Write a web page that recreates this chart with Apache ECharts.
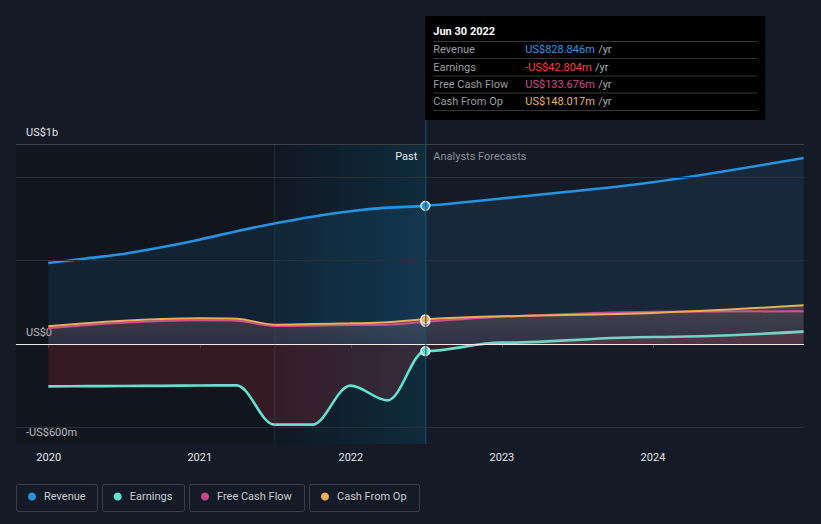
<!DOCTYPE html>
<html><head><meta charset="utf-8">
<script src="https://cdn.jsdelivr.net/npm/echarts@6/dist/echarts.min.js"></script>
<style>html,body{margin:0;padding:0;background:#151b26;}#c{width:821px;height:524px;}</style>
</head><body><div id="c"></div><script>
// ---- data ----
const pastDates = ['2019-12-31','2020-03-31','2020-06-30','2020-09-30','2020-12-31','2021-03-31','2021-06-30','2021-09-30','2021-12-31','2022-03-31','2022-06-30'];
const forecastDates = ['2022-12-31','2023-12-31','2024-12-31'];
const revenuePast = [486, 513, 540, 580, 626, 677, 723, 764, 797, 818, 828.846];
const revenueForecast = [873, 971, 1116];
const earningsPast = [-254, -253, -252, -251, -249, -248, -484, -484, -250, -338, -42.804];
const earningsForecast = [8, 42, 74];
const fcfPast = [94, 113, 128, 138, 142, 140, 108, 110, 114, 116, 133.676];
const fcfForecast = [164, 194, 196];
const cfoPast = [106, 125, 140, 150, 154, 152, 116, 120, 124, 130, 148.017];
const cfoForecast = [166, 186, 232];
const xTickValues = [2020, 2021, 2022, 2023, 2024];
const yTickValues = [-600, 0, 1200];
const yTickLabels = ['-US$600m', 'US$0', 'US$1b'];
const yGridValues = [-500, 500, 1000, 1200];
const highlightDate = '2022-06-30';
const highlightStartDate = '2021-06-30';
const tooltipTitle = 'Jun 30 2022';

// ---- helpers ----
function toYear(s){const d=Date.parse(s+'T00:00:00Z');const y=new Date(d).getUTCFullYear();const a=Date.UTC(y,0,1),b=Date.UTC(y+1,0,1);return y+(d-a)/(b-a);}
const allDates = pastDates.concat(forecastDates);
const hlIndex = pastDates.indexOf(highlightDate);
const hlX = toYear(highlightDate);
const hlStartX = toYear(highlightStartDate);
const xMin = 2019.7835, xMax = 2025;
const FONT = 'Roboto';

const defs = [
  {name:'Revenue', past:revenuePast, fc:revenueForecast, color:'#2394df', tip:'#2b9ae3', width:2.6, mono:false,
   area:{color:'rgba(35,148,223,0.16)'}},
  {name:'Earnings', past:earningsPast, fc:earningsForecast, color:'#62e3cf', tip:'#ff3d3d', width:2.6, mono:true,
   area:{color:'rgba(229,50,62,0.25)'}},
  {name:'Free Cash Flow', past:fcfPast, fc:fcfForecast, color:'#c9438a', tip:'#d9488f', width:2, mono:false,
   area:null},
  {name:'Cash From Op', past:cfoPast, fc:cfoForecast, color:'#e8ae5a', tip:'#ebb25e', width:2, mono:false,
   area:{color:{type:'linear',x:0,y:0,x2:0,y2:1,colorStops:[{offset:0,color:'rgba(235,150,130,0.34)'},{offset:1,color:'rgba(200,120,150,0.2)'}]}}}
];

function buildData(def){
  const vals = def.past.concat(def.fc);
  return vals.map((v,i)=>{
    const p=[toYear(allDates[i]), v];
    if(i===hlIndex) return {value:p, symbol:'circle', symbolSize:9, itemStyle:{color:def.color, borderColor:'#ffffff', borderWidth:1.2}};
    return p;
  });
}

const series = [
  {name:'bg', type:'line', data:[], z:1, silent:true,
   markArea:{silent:true, data:[
     [{xAxis:xMin, itemStyle:{color:'rgba(0,0,0,0.2)'}},{xAxis:hlX}],
     [{xAxis:hlStartX, itemStyle:{color:{type:'linear',x:0,y:0,x2:1,y2:0,colorStops:[{offset:0,color:'rgba(10,100,140,0.04)'},{offset:1,color:'rgba(10,110,150,0.26)'}]}}},{xAxis:hlX}]
   ]},
   markLine:{silent:true, symbol:'none', label:{show:false}, animation:false,
     lineStyle:{color:'#2a303a', type:'solid', width:1},
     data: yGridValues.map(v=>({yAxis:v, lineStyle:{color: v===1200?'#3a3f48':'#2a303a', type:'solid', width:1}}))
   }
  }
];
defs.forEach((d,k)=>{
  const s = {
    name:d.name, type:'line', color:d.color, z:2+k, smooth:d.mono?0.35:0.3,
    symbol:'none', showSymbol:true, showAllSymbol:true, animation:false,
    lineStyle:{width:d.width, color:d.color},
    areaStyle: d.area ? {color:d.area.color, origin:0} : undefined,
    data: buildData(d)
  };
  if(d.mono) s.smoothMonotone = 'x';
  series.push(s);
});
series.push({name:'zero', type:'line', data:[], z:3, silent:true,
  markLine:{silent:true, symbol:'none', label:{show:false}, animation:false,
    data:[{yAxis:0, lineStyle:{color:'#f4eaea', type:'solid', width:1}}]}});

const legendPos = [28, 113.7, 201, 321];
const legends = defs.map((d,i)=>({
  data:[d.name], left:legendPos[i], top:491, padding:0, itemWidth:8, itemHeight:8, icon:'circle',
  selectedMode:false, textStyle:{color:'#c8cbd0', fontSize:11, fontFamily:FONT, padding:[0,0,0,3]}
}));

const chart = echarts.init(document.getElementById('c'), null, {renderer:'svg'});
chart.setOption({
  backgroundColor:'#151b26',
  animation:false,
  grid:{left:16, right:17, top:144, bottom:80, containLabel:false},
  legend: legends,
  xAxis:{type:'value', min:xMin, max:xMax,
    axisLine:{show:true, lineStyle:{color:'#4a4f58', width:1}},
    axisTick:{show:true, customValues:xTickValues, length:4, lineStyle:{color:'#4a4f58'}},
    axisLabel:{customValues:xTickValues, formatter:v=>String(Math.round(v)), color:'#e2e4e8', fontSize:11, fontFamily:FONT, margin:8},
    splitLine:{show:false}
  },
  yAxis:{type:'value', min:-600, max:1200,
    axisLine:{show:false}, axisTick:{show:false}, splitLine:{show:false},
    axisLabel:{inside:true, customValues:yTickValues, margin:10, verticalAlign:'bottom', padding:[0,0,6,0],
      formatter:v=>yTickLabels[yTickValues.indexOf(v)], color:'#e2e4e8', fontSize:11, fontFamily:FONT}
  },
  series: series
});

// ---- overlay: tooltip box, divider, labels, legend boxes ----
const px = chart.convertToPixel({xAxisIndex:0, yAxisIndex:0}, [hlX, 0])[0];
const pxStart = chart.convertToPixel({xAxisIndex:0, yAxisIndex:0}, [hlStartX, 0])[0];
const topY = chart.convertToPixel({xAxisIndex:0, yAxisIndex:0}, [hlX, 1200])[1];
const botY = chart.convertToPixel({xAxisIndex:0, yAxisIndex:0}, [hlX, -600])[1];
const g = [];
g.push({type:'line', shape:{x1:pxStart+0.5, y1:topY, x2:pxStart+0.5, y2:botY}, style:{stroke:'rgba(40,130,150,0.22)', lineWidth:1}, z:10});
g.push({type:'line', shape:{x1:px+0.5, y1:120, x2:px+0.5, y2:botY}, style:{stroke:'#1b5566', lineWidth:1}, z:10});
g.push({type:'text', x:px-8, y:156, style:{text:'Past', fill:'#e6e8ea', font:'11px '+FONT, textAlign:'right', textVerticalAlign:'middle'}, z:11});
g.push({type:'text', x:px+8, y:156, style:{text:'Analysts Forecasts', fill:'#8a8f98', font:'11px '+FONT, textAlign:'left', textVerticalAlign:'middle'}, z:11});
// tooltip
g.push({type:'rect', shape:{x:px, y:16, width:340, height:104}, style:{fill:'#000000'}, z:20});
g.push({type:'text', x:px+8, y:31, style:{text:tooltipTitle, fill:'#ffffff', font:'bold 11px '+FONT, textVerticalAlign:'middle'}, z:21});
const sepY = [41.5, 58.5, 76, 93, 110.5];
sepY.forEach(y=>g.push({type:'line', shape:{x1:px+8, y1:y, x2:px+332, y2:y}, style:{stroke:'#33363b', lineWidth:1}, z:21}));
const rowY = [49.5, 67, 84.5, 101.5];
function fmt(v){return (v<0?'-':'')+'US$'+Math.abs(v).toFixed(3)+'m';}
defs.forEach((d,i)=>{
  g.push({type:'text', x:px+8, y:rowY[i], style:{text:d.name, fill:'#9a9da3', font:'11px '+FONT, textVerticalAlign:'middle'}, z:21});
  g.push({type:'text', x:px+100, y:rowY[i], style:{text:'{v|'+fmt(d.past[hlIndex])+'} {u|/yr}', textVerticalAlign:'middle',
    rich:{v:{fill:d.tip, font:'11px '+FONT}, u:{fill:'#a8abb0', font:'11px '+FONT}}}, z:21});
});
// legend boxes
const boxes = [[16,484,81,27],[102,484,82,27],[189,484,115,27],[309,484,110,27]];
boxes.forEach(b=>g.push({type:'rect', shape:{x:b[0]+0.5, y:b[1]+0.5, width:b[2], height:b[3], r:2}, style:{fill:'none', stroke:'#3a3f48', lineWidth:1}, z:0, silent:true}));
chart.setOption({graphic:g});
</script></body></html>
